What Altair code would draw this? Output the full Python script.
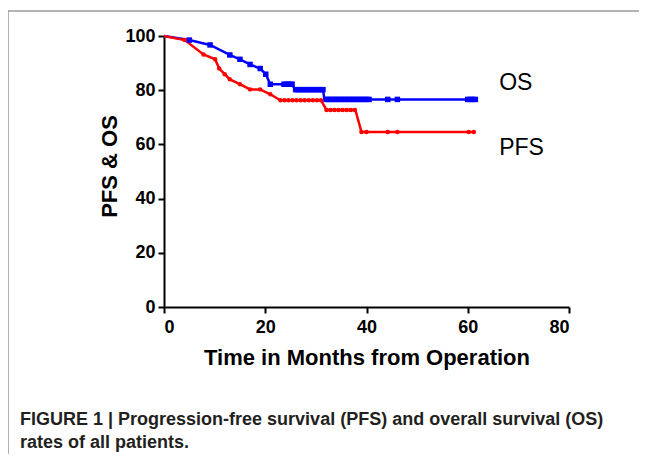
import altair as alt
import pandas as pd

# Kaplan-Meier style curves (line vertices)
os_t = [0, 5, 9.1, 13, 15, 17, 19, 20.1, 21, 25.3, 25.9, 31.4, 31.7, 61.5]
os_v = [100, 98.5, 96.7, 93, 91.4, 89.5, 88, 85.9, 82.2, 82.2, 80.2, 80.2, 76.6, 76.6]

pfs_t = [0, 4.1, 7.8, 10.1, 10.9, 12, 13, 15, 17, 19, 21, 23, 31, 32.1, 37.8, 39, 61.2]
pfs_v = [100, 98.5, 93.2, 91.4, 88, 85.9, 84, 82.2, 80.3, 80.3, 78.5, 76.3, 76.3, 72.7, 72.7, 64.6, 64.6]

# censor / event markers
os_mt = [5, 9.1, 13, 15, 17, 19, 20.1, 21,
         23.7, 24.1, 24.5, 24.9, 25.3,
         26, 26.5, 27, 27.5, 28, 28.5, 29, 29.5, 30, 30.5, 31, 31.4,
         32, 32.5, 33, 33.5, 34, 34.5, 35, 35.5, 36, 36.5, 37, 37.5, 38, 38.5, 39, 39.5, 40, 40.5,
         44.2, 46.1, 60, 60.5, 61, 61.5]
os_mv = [98.5, 96.7, 93, 91.4, 89.5, 88, 85.9, 82.2,
         82.2, 82.2, 82.2, 82.2, 82.2,
         80.2, 80.2, 80.2, 80.2, 80.2, 80.2, 80.2, 80.2, 80.2, 80.2, 80.2, 80.2,
         76.6, 76.6, 76.6, 76.6, 76.6, 76.6, 76.6, 76.6, 76.6, 76.6, 76.6, 76.6, 76.6, 76.6, 76.6, 76.6, 76.6, 76.6,
         76.6, 76.6, 76.6, 76.6, 76.6, 76.6]

pfs_mt = [4.1, 7.8, 10.1, 10.9, 12, 13, 15, 17, 19, 21,
          23, 23.8, 24.6, 25.4, 26.2, 27, 27.8, 28.6, 29.4, 30.2, 31,
          32.1, 32.9, 33.7, 34.5, 35.3, 36.1, 36.9, 37.7,
          39, 40, 44.2, 46.1, 60.2, 61.2]
pfs_mv = [98.5, 93.2, 91.4, 88, 85.9, 84, 82.2, 80.3, 80.3, 78.5,
          76.3, 76.3, 76.3, 76.3, 76.3, 76.3, 76.3, 76.3, 76.3, 76.3, 76.3,
          72.7, 72.7, 72.7, 72.7, 72.7, 72.7, 72.7, 72.7,
          64.6, 64.6, 64.6, 64.6, 64.6, 64.6]

series_names = ["OS", "PFS"]
series_colors = ["#0000FF", "#FF0000"]
label_t = [66.2, 66.2]
label_v = [82.7, 58.7]

x_ticks = [0, 20, 40, 60, 80]
y_ticks = [0, 20, 40, 60, 80, 100]

caption1 = "FIGURE 1 | Progression-free survival (PFS) and overall survival (OS)"
caption2 = "rates of all patients."

lines = pd.concat([
    pd.DataFrame({"t": os_t, "v": os_v, "s": "OS", "o": range(len(os_t))}),
    pd.DataFrame({"t": pfs_t, "v": pfs_v, "s": "PFS", "o": range(len(pfs_t))}),
])
os_marks = pd.DataFrame({"t": os_mt, "v": os_mv})
pfs_marks = pd.DataFrame({"t": pfs_mt, "v": pfs_mv})
labels = pd.DataFrame({"t": label_t, "v": label_v, "s": series_names})

FONT = "Liberation Sans"

xscale = alt.Scale(domain=[0, 80], nice=False)
yscale = alt.Scale(domain=[0, 100], nice=False)
color = alt.Color("s:N", scale=alt.Scale(domain=series_names, range=series_colors), legend=None)

axis_common = dict(domainColor="black", domainWidth=2, tickColor="black", tickWidth=2,
                   tickSize=6, labelFont=FONT, labelFontWeight="bold", labelFontSize=18,
                   labelColor="black", titleFont=FONT, titleFontWeight="bold",
                   titleFontSize=22, titleColor="black", grid=False)

x_enc = alt.X("t:Q", scale=xscale,
              axis=alt.Axis(values=x_ticks, title="Time in Months from Operation",
                            labelPadding=5, titleY=50, titleBaseline="middle", **axis_common))
y_enc = alt.Y("v:Q", scale=yscale,
              axis=alt.Axis(values=y_ticks, title="PFS & OS", labelPadding=3,
                            titleX=-55, titleY=130, titleBaseline="middle", **axis_common))

line_layer = alt.Chart(lines).mark_line(strokeWidth=2.5).encode(
    x=x_enc, y=y_enc, color=color, order="o:Q", detail="s:N")

os_pts = alt.Chart(os_marks).mark_point(shape="square", filled=True, size=30,
                                        color="#0000FF", opacity=1).encode(x="t:Q", y="v:Q")
pfs_pts = alt.Chart(pfs_marks).mark_point(shape="circle", filled=True, size=20,
                                          color="#FF0000", opacity=1).encode(x="t:Q", y="v:Q")

label_layer = alt.Chart(labels).mark_text(align="left", baseline="middle", font=FONT,
                                          fontSize=23, color="black").encode(
    x="t:Q", y="v:Q", text="s:N")

frame_top = alt.Chart(pd.DataFrame({"a": [0]})).mark_rule(color="#9a9a9a", strokeWidth=1.5).encode(
    x=alt.value(-156), x2=alt.value(475), y=alt.value(-25))
frame_left = alt.Chart(pd.DataFrame({"a": [0]})).mark_rule(color="#9a9a9a", strokeWidth=1.5).encode(
    x=alt.value(-156), y=alt.value(-25), y2=alt.value(430))

cap1 = alt.Chart(pd.DataFrame({"c": [caption1]})).mark_text(
    align="left", baseline="middle", font=FONT, fontSize=18, fontWeight="bold",
    color="#231f20").encode(x=alt.value(-144), y=alt.value(384), text="c:N")
cap2 = alt.Chart(pd.DataFrame({"c": [caption2]})).mark_text(
    align="left", baseline="middle", font=FONT, fontSize=18, fontWeight="bold",
    color="#231f20").encode(x=alt.value(-144), y=alt.value(407), text="c:N")

chart = alt.layer(frame_top, frame_left, line_layer, os_pts, pfs_pts, label_layer, cap1, cap2).properties(
    width=405, height=271,
    autosize=alt.AutoSizeParams(type="none"),
    padding={"left": 156, "top": 28, "right": 70, "bottom": 147},
).configure_view(stroke=None)

chart.save("out.html", embed_options={"renderer": "svg", "actions": False})
